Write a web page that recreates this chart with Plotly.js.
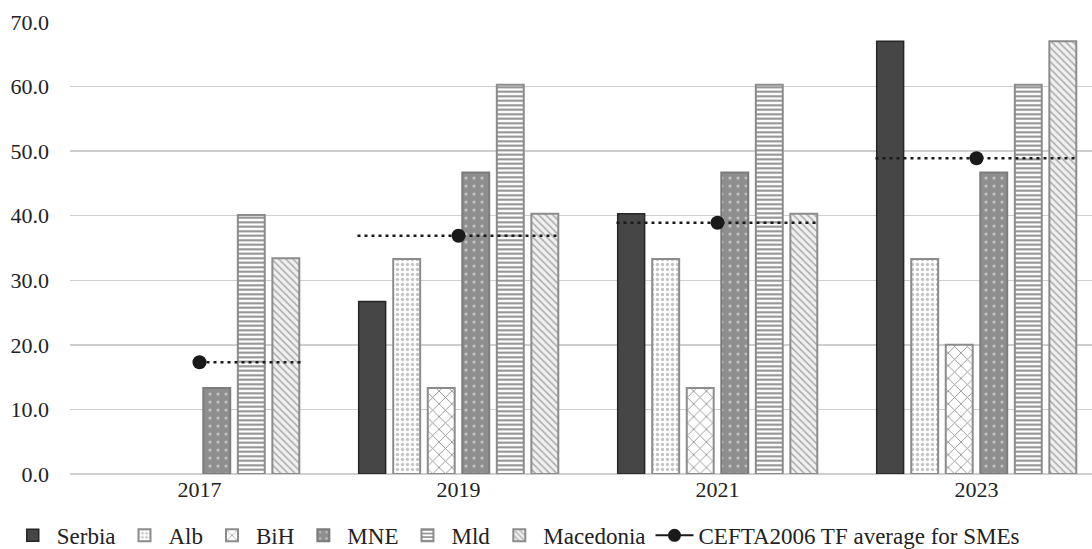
<!DOCTYPE html>
<html>
<head>
<meta charset="utf-8">
<script src="https://cdn.plot.ly/plotly-3.0.1.min.js"></script>
<style>html,body{margin:0;padding:0;background:#fff;overflow:hidden;}</style>
</head>
<body>
<div id="chart" style="width:1092px;height:549px;"></div>
<script>
const years = ["2017", "2019", "2021", "2023"];
// null = no bar drawn for that year
const serbia    = [null, 26.7, 40.3, 67.0];
const alb       = [null, 33.3, 33.3, 33.3];
const bih       = [null, 13.3, 13.3, 20.0];
const mne       = [13.3, 46.7, 46.7, 46.7];
const mld       = [40.1, 60.3, 60.3, 60.3];
const macedonia = [33.4, 40.3, 40.3, 67.0];
const ceftaAvg  = [17.3, 36.9, 38.9, 48.9];
const yTicks = [0, 10, 20, 30, 40, 50, 60, 70];

const idx = years.map((_, i) => i);
const FONT = "Liberation Serif, Times New Roman, serif";

function barTrace(name, y, fill, border, bw, pattern) {
  return {
    type: "bar", name: name, x: idx, y: y,
    marker: { color: fill, line: { color: border, width: bw }, pattern: pattern },
    hoverinfo: "y+name"
  };
}

const traces = [
  barTrace("Serbia", serbia, "#464646", "#262626", 1.5, { shape: "" }),
  barTrace("Alb", alb, "#ffffff", "#8c8c8c", 2, { shape: ".", fgcolor: "#c4c4c4", bgcolor: "#ffffff", size: 5, solidity: 0.35, fillmode: "replace" }),
  barTrace("BiH", bih, "#ffffff", "#8c8c8c", 2, { shape: "x", fgcolor: "#8c8c8c", bgcolor: "#ffffff", size: 9, solidity: 0.18, fillmode: "replace" }),
  barTrace("MNE", mne, "#8e8e8e", "#7c7c7c", 2, { shape: ".", fgcolor: "#c2c2c2", bgcolor: "#8e8e8e", size: 8, solidity: 0.12, fillmode: "replace" }),
  barTrace("Mld", mld, "#ffffff", "#8c8c8c", 2, { shape: "-", fgcolor: "#8c8c8c", bgcolor: "#ffffff", size: 4.5, solidity: 0.45, fillmode: "replace" }),
  barTrace("Macedonia", macedonia, "#eeeeee", "#8c8c8c", 2, { shape: "\\", fgcolor: "#ababab", bgcolor: "#f0f0f0", size: 5, solidity: 0.3, fillmode: "replace" })
];

// dotted average segments across each group, marker at group centre
const halfSpan = 0.39;
const segX = [], segY = [];
ceftaAvg.forEach((v, i) => {
  segX.push(i === 0 ? i : i - halfSpan, i + halfSpan, null);
  segY.push(v, v, null);
});
traces.push({
  type: "scatter", mode: "lines", x: segX, y: segY,
  line: { color: "#1a1a1a", width: 2.5, dash: "3px,4px" },
  showlegend: false, hoverinfo: "skip", legendgroup: "cefta"
});
traces.push({
  type: "scatter", mode: "markers", name: "CEFTA2006 TF average for SMEs",
  x: idx, y: ceftaAvg,
  marker: { color: "#1a1a1a", size: 14, symbol: "circle" },
  legendgroup: "cefta", showlegend: false
});
// legend entry for the average line
traces.push({
  type: "scatter", mode: "lines+markers", name: "CEFTA2006 TF average for SMEs",
  x: [null], y: [null],
  line: { color: "#1a1a1a", width: 2 },
  marker: { color: "#1a1a1a", size: 13 },
  legendgroup: "cefta", showlegend: true
});

const layout = {
  width: 1092, height: 549,
  margin: { l: 70, r: 0, t: 22, b: 75 },
  paper_bgcolor: "#ffffff", plot_bgcolor: "#ffffff",
  font: { family: FONT, size: 22, color: "#222222" },
  barmode: "group", bargap: 0.2, bargroupgap: 0.22,
  xaxis: {
    range: [-0.5, 3.446],
    tickmode: "array", tickvals: idx, ticktext: years,
    showgrid: false, zeroline: false, showline: false,
    ticks: "", tickfont: { family: FONT, size: 22, color: "#222" },
    fixedrange: true
  },
  yaxis: {
    range: [0, 70],
    tickmode: "array", tickvals: yTicks, ticktext: yTicks.map(v => v.toFixed(1)),
    showgrid: true, gridcolor: "#cfcfcf", gridwidth: 1.5,
    zeroline: true, zerolinecolor: "#cfcfcf", zerolinewidth: 1.5,
    showline: false, ticks: "", ticklabelstandoff: 20,
    tickfont: { family: FONT, size: 22, color: "#222" },
    fixedrange: true
  },
  showlegend: true,
  legend: {
    orientation: "h", xref: "container", yref: "container",
    x: 0.008, xanchor: "left", y: 0.064, yanchor: "top",
    font: { family: FONT, size: 23, color: "#222" },
    itemwidth: 38, traceorder: "normal", bgcolor: "rgba(0,0,0,0)"
  }
};

Plotly.newPlot("chart", traces, layout, { displayModeBar: false, staticPlot: true });
</script>
</body>
</html>
